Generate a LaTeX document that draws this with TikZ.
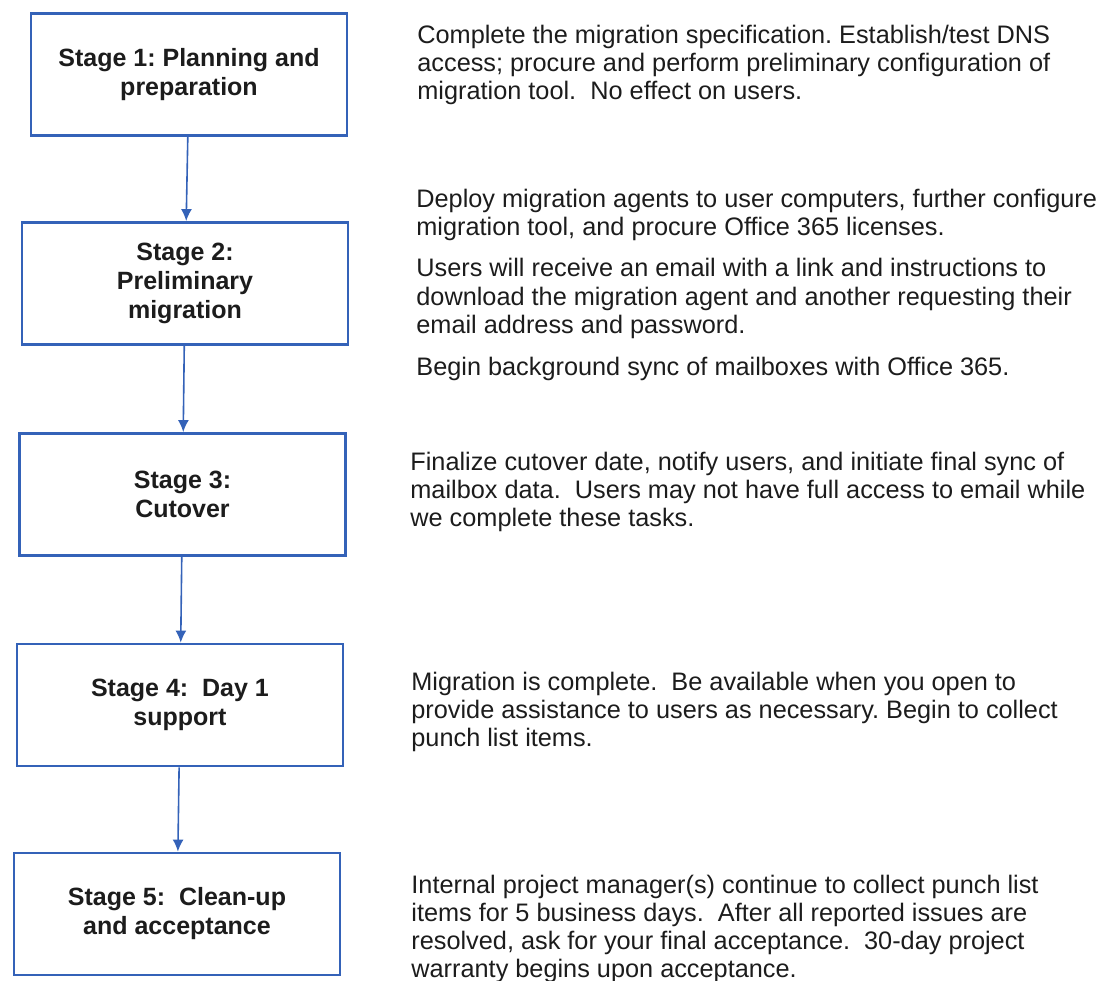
\documentclass[tikz,border=0pt]{standalone}
\usepackage{fontspec}
\setmainfont{Liberation Sans}
\usetikzlibrary{arrows.meta}
\definecolor{boxblue}{RGB}{52,98,184}
\definecolor{ink}{RGB}{28,28,28}
\frenchspacing
\begin{document}
\begin{tikzpicture}[x=1pt, y=-1pt, thick,
    main/.style = {draw=boxblue, line width=2.8pt, minimum width=326pt, minimum height=122pt, align=center, text=ink, font=\fontsize{25}{29}\selectfont\bfseries},
    desc/.style = {anchor=base west, align=left, inner sep=0pt, text=ink, font=\fontsize{25.3}{28}\selectfont},
    freccia/.style = {draw=boxblue, line width=1.6pt, -{Latex[length=12pt,width=11pt]}}]
    \useasboundingbox (0,0) rectangle (1100,981);
    % Disegna i riquadri delle fasi

    \node[main, minimum width=316pt] (s1) at (189,74.5) {Stage 1: Planning and\\preparation};
    \node[main] (s2) at (185,283.5) {Stage 2:\\Preliminary\\migration};
    \node[main] (s3) at (182.5,494.5) {Stage 3:\\Cutover};
    \node[main] (s4) at (180,705) {Stage 4:\ \ Day 1\\support};
    \node[main] (s5) at (177,914) {Stage 5:\ \ Clean-up\\and acceptance};

    % Descrizioni a destra (ancorate all'ultima riga)
    \node[desc] (d1) at (417,100) {Complete the migration specification. Establish/test DNS\\access; procure and perform preliminary configuration of\\migration tool.\ \ No effect on users.};
    \node[desc] (d2) at (416,375) {Deploy migration agents to user computers, further configure\\migration tool, and procure Office 365 licenses.\\[14pt]Users will receive an email with a link and instructions to\\download the migration agent and another requesting their\\email address and password.\\[14pt]Begin background sync of mailboxes with Office 365.};
    \node[desc] (d3) at (410,526) {Finalize cutover date, notify users, and initiate final sync of\\mailbox data.\ \ Users may not have full access to email while\\we complete these tasks.};
    \node[desc] (d4) at (411,746) {Migration is complete.\ \ Be available when you open to\\provide assistance to users as necessary. Begin to collect\\punch list items.};
    \node[desc] (d5) at (411,977) {Internal project manager(s) continue to collect punch list\\items for 5 business days.\ \ After all reported issues are\\resolved, ask for your final acceptance.\ \ 30-day project\\warranty begins upon acceptance.};

    % Frecce tra le fasi
    \draw[freccia] (s1) to (s2);
    \draw[freccia] (s2) to (s3);
    \draw[freccia] (s3) to (s4);
    \draw[freccia] (s4) to (s5);

\end{tikzpicture}
\end{document}
